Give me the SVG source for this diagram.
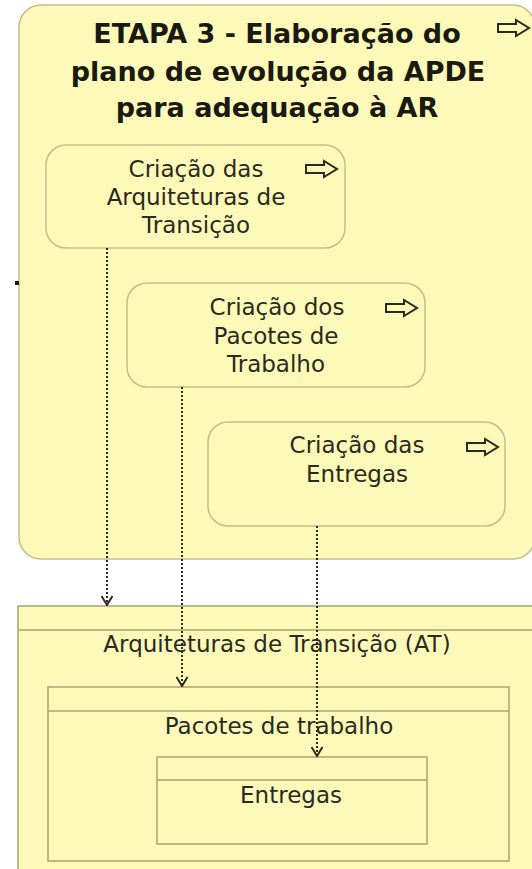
<svg xmlns="http://www.w3.org/2000/svg" width="532" height="869" viewBox="0 0 532 869">
  <style>
    .bg { fill: #ffffff; }
    .grp { fill: #fdf9b8; stroke: #c2be86; stroke-width: 1.5; }
    .task { fill: #fdf9b8; stroke: #c2be86; stroke-width: 1.5; }
    .del { fill: #fdf9b8; stroke: #a9a56c; stroke-width: 1.5; }
    .hdr { stroke: #a9a56c; stroke-width: 1.5; fill: none; }
    .title { font-family: "DejaVu Sans", Verdana, sans-serif; font-weight: bold; font-size: 27px; fill: #1a1a12; text-anchor: middle; }
    .lbl { font-family: "DejaVu Sans", Verdana, sans-serif; font-size: 23px; fill: #2a2a1e; text-anchor: middle; }
    .icon { fill: none; stroke: #2a2a1e; stroke-width: 2; stroke-linejoin: miter; }
    .conn { fill: none; stroke: #2a2a20; stroke-width: 2; stroke-dasharray: 2 2; }
  </style>
  <defs>
    <marker id="vhead" markerWidth="11" markerHeight="13" refX="10" refY="6.5" orient="auto" markerUnits="userSpaceOnUse" viewBox="0 0 11 13">
      <path d="M1,1 L10,6.5 L1,12" fill="none" stroke="#2a2a20" stroke-width="2"/>
    </marker>
    <path id="arrowIcon" d="M0,-4 L18,-4 L18,-8 L31,0 L18,8 L18,4 L0,4 Z"/>
  </defs>

  <rect class="bg" x="0" y="0" width="532" height="869"/>

  <g id="etapa3">
    <rect class="grp" x="19" y="5" width="516" height="554" rx="22" ry="22"/>
    <text class="title" x="277" y="43">ETAPA 3 - Elaboração do</text>
    <text class="title" x="278" y="81">plano de evolução da APDE</text>
    <text class="title" x="277" y="117">para adequação à AR</text>
    <use href="#arrowIcon" class="icon" x="498" y="28"/>
    <rect x="15" y="281" width="4" height="4" fill="#1a1a1a"/>
  </g>

  <g id="criacao-arquiteturas">
    <rect class="task" x="46" y="145" width="299" height="103" rx="20" ry="20"/>
    <text class="lbl" x="196" y="177">Criação das</text>
    <text class="lbl" x="196" y="205">Arquiteturas de</text>
    <text class="lbl" x="196" y="233">Transição</text>
    <use href="#arrowIcon" class="icon" x="306" y="169"/>
  </g>

  <g id="criacao-pacotes">
    <rect class="task" x="127" y="283" width="298" height="104" rx="20" ry="20"/>
    <text class="lbl" x="277" y="315">Criação dos</text>
    <text class="lbl" x="276" y="344">Pacotes de</text>
    <text class="lbl" x="276" y="372">Trabalho</text>
    <use href="#arrowIcon" class="icon" x="386" y="308"/>
  </g>

  <g id="criacao-entregas">
    <rect class="task" x="208" y="422" width="297" height="104" rx="20" ry="20"/>
    <text class="lbl" x="357" y="453">Criação das</text>
    <text class="lbl" x="357" y="482">Entregas</text>
    <use href="#arrowIcon" class="icon" x="467" y="447"/>
  </g>

  <g id="arquiteturas-transicao">
    <rect class="del" x="18" y="606" width="530" height="280"/>
    <line class="hdr" x1="18" y1="630" x2="548" y2="630"/>
    <text class="lbl" x="277" y="652">Arquiteturas de Transição (AT)</text>
  </g>

  <g id="pacotes-trabalho">
    <rect class="del" x="48" y="687" width="461" height="174"/>
    <line class="hdr" x1="48" y1="711" x2="509" y2="711"/>
    <text class="lbl" x="279" y="734">Pacotes de trabalho</text>
  </g>

  <g id="entregas">
    <rect class="del" x="157" y="757" width="270" height="87"/>
    <line class="hdr" x1="157" y1="780" x2="427" y2="780"/>
    <text class="lbl" x="291" y="803">Entregas</text>
  </g>

  <g id="connectors">
    <line class="conn" x1="107" y1="248" x2="107" y2="605" marker-end="url(#vhead)"/>
    <line class="conn" x1="182" y1="387" x2="182" y2="686" marker-end="url(#vhead)"/>
    <line class="conn" x1="317" y1="526" x2="317" y2="756" marker-end="url(#vhead)"/>
  </g>
</svg>
